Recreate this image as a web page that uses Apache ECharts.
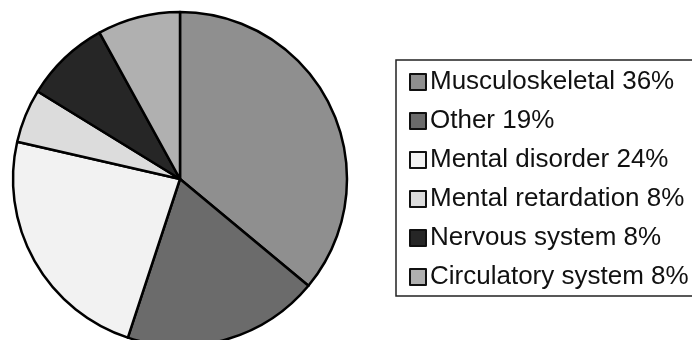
<!DOCTYPE html>
<html><head><meta charset="utf-8">
<script src="https://cdn.jsdelivr.net/npm/echarts@6/dist/echarts.min.js"></script>
<style>html,body{margin:0;padding:0;background:#fff}#c{width:692px;height:340px}</style>
</head><body><div id="c"></div>
<script>
const categories = ['Musculoskeletal 36%', 'Other 19%', 'Mental disorder 24%', 'Mental retardation 8%', 'Nervous system 8%', 'Circulatory system 8%'];
const values = [36, 19, 23.5, 5.2, 8.2, 8.0];
const colors = ['#8f8f8f', '#6b6b6b', '#f2f2f2', '#dcdcdc', '#262626', '#b0b0b0'];

const chart = echarts.init(document.getElementById('c'), null, {renderer: 'canvas'});
chart.setOption({
  animation: false,
  backgroundColor: '#ffffff',
  graphic: [{
    type: 'rect',
    shape: {x: 396, y: 60, width: 320, height: 236},
    style: {fill: 'none', stroke: '#222', lineWidth: 1.5},
    z: 0
  }],
  legend: {
    orient: 'vertical',
    left: 404,
    top: 64,
    itemWidth: 16,
    itemHeight: 16,
    itemGap: 13,
    icon: 'rect',
    itemStyle: {borderColor: '#111', borderWidth: 2},
    textStyle: {fontFamily: 'Liberation Sans, Arial, sans-serif', fontSize: 26, color: '#111', lineHeight: 26, padding: [0, 0, 0, -1]},
    data: categories
  },
  series: [{
    type: 'pie',
    center: [180, 179],
    radius: 167,
    startAngle: 90,
    clockwise: true,
    label: {show: false},
    labelLine: {show: false},
    emphasis: {disabled: true},
    itemStyle: {borderColor: '#000', borderWidth: 2.5},
    data: categories.map((n, i) => ({name: n, value: values[i], itemStyle: {color: colors[i]}}))
  }]
});
</script>
</body></html>
